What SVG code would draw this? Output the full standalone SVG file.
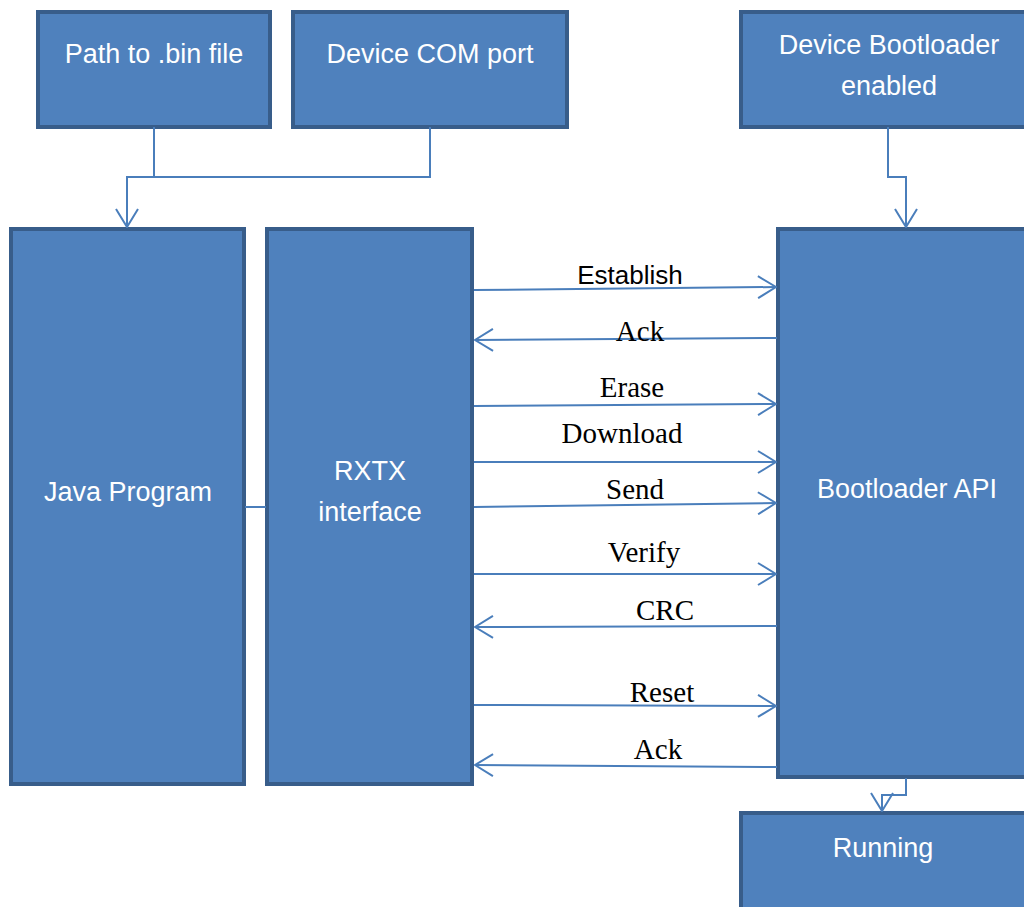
<svg xmlns="http://www.w3.org/2000/svg" width="1024" height="907" viewBox="0 0 1024 907">
  <style>
    .box { fill: #4F81BD; stroke: #385D8A; stroke-width: 4; }
    .boxtext { font-family: "Liberation Sans", Arial, sans-serif; font-size: 27px; fill: #FFFFFF; text-anchor: middle; }
    .conn { fill: none; stroke: #4A7EBB; stroke-width: 2; }
    .msg { font-family: "Liberation Serif", "Times New Roman", serif; font-size: 29px; fill: #000000; text-anchor: middle; }
    .msg-sans { font-family: "Liberation Sans", Arial, sans-serif; font-size: 26px; fill: #000000; text-anchor: middle; }
  </style>
  <defs>
    <marker id="open-arrow" viewBox="0 0 20 24" refX="19" refY="12" markerWidth="20" markerHeight="24" markerUnits="userSpaceOnUse" orient="auto">
      <path d="M1,1 L19,12 L1,23" fill="none" stroke="#4A7EBB" stroke-width="2"/>
    </marker>
  </defs>

  <rect width="1024" height="907" fill="#FFFFFF"/>

  <g id="path-to-bin">
    <rect class="box" x="38" y="12" width="232" height="115"/>
    <text class="boxtext" x="154" y="63">Path to .bin file</text>
  </g>
  <g id="device-com-port">
    <rect class="box" x="293" y="12" width="274" height="115"/>
    <text class="boxtext" x="430" y="63">Device COM port</text>
  </g>
  <g id="device-bootloader-enabled">
    <rect class="box" x="741" y="12" width="300" height="115"/>
    <text class="boxtext" x="889" y="54">Device Bootloader</text>
    <text class="boxtext" x="889" y="95">enabled</text>
  </g>
  <g id="java-program">
    <rect class="box" x="11" y="229" width="233" height="555"/>
    <text class="boxtext" x="128" y="501">Java Program</text>
  </g>
  <g id="rxtx-interface">
    <rect class="box" x="267" y="229" width="205" height="555"/>
    <text class="boxtext" x="370" y="480">RXTX</text>
    <text class="boxtext" x="370" y="521">interface</text>
  </g>
  <g id="bootloader-api">
    <rect class="box" x="778" y="229" width="263" height="548"/>
    <text class="boxtext" x="907" y="498">Bootloader API</text>
  </g>
  <g id="running">
    <rect class="box" x="741" y="813" width="300" height="110"/>
    <text class="boxtext" x="883" y="857">Running</text>
  </g>

  <g id="connectors">
    <!-- inputs merging into the Java program -->
    <path class="conn" d="M154,127 V177"/>
    <path class="conn" d="M430,127 V177 H127 V227" marker-end="url(#open-arrow)"/>
    <!-- bootloader enable into the API -->
    <path class="conn" d="M888,127 V177 H906 V227" marker-end="url(#open-arrow)"/>
    <!-- API to running -->
    <path class="conn" d="M906,778 V795 H882 V811" marker-end="url(#open-arrow)"/>
    <!-- Java program to RXTX -->
    <path class="conn" d="M245,507 H266"/>

    <!-- message exchange -->
    <path class="conn" d="M474,290 L776,287" marker-end="url(#open-arrow)"/>
    <path class="conn" d="M777,338 L475,340" marker-end="url(#open-arrow)"/>
    <path class="conn" d="M474,406 L776,404" marker-end="url(#open-arrow)"/>
    <path class="conn" d="M474,462 L776,462" marker-end="url(#open-arrow)"/>
    <path class="conn" d="M474,507 L776,503" marker-end="url(#open-arrow)"/>
    <path class="conn" d="M474,574 L776,574" marker-end="url(#open-arrow)"/>
    <path class="conn" d="M777,626 L475,627" marker-end="url(#open-arrow)"/>
    <path class="conn" d="M474,705 L776,706" marker-end="url(#open-arrow)"/>
    <path class="conn" d="M777,767 L475,765" marker-end="url(#open-arrow)"/>

    <text class="msg-sans" x="630" y="284">Establish</text>
    <text class="msg" x="640" y="341">Ack</text>
    <text class="msg" x="632" y="397">Erase</text>
    <text class="msg" x="622" y="443">Download</text>
    <text class="msg" x="635" y="499">Send</text>
    <text class="msg" x="644" y="562">Verify</text>
    <text class="msg" x="665" y="620">CRC</text>
    <text class="msg" x="662" y="702">Reset</text>
    <text class="msg" x="658" y="759">Ack</text>
  </g>
</svg>
